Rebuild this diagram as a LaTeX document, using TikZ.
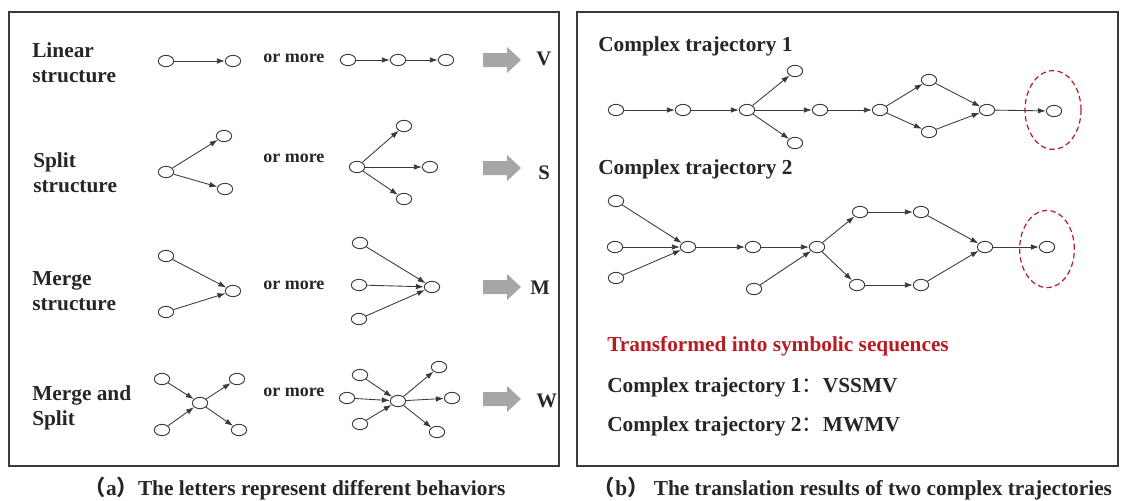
\documentclass[tikz,border=0pt]{standalone}
\usepackage{fontspec}
\setmainfont{Liberation Serif}
\newfontfamily\cjk{Noto Sans CJK SC}
\usetikzlibrary{shapes.geometric,arrows.meta}
\definecolor{TInk}{HTML}{262626}
\definecolor{TLine}{HTML}{3A3A3A}
\definecolor{TBlock}{HTML}{A6A6A6}
\definecolor{TRed}{HTML}{B81C22}

\begin{document}
\begin{tikzpicture}[x=0.75pt, y=-0.75pt,
  vtx/.style={ellipse, draw=TLine, line width=0.7pt, fill=white, inner sep=0pt, minimum width=11.5pt, minimum height=8.5pt},
  link/.style={draw=TLine, line width=0.65pt, -{Latex[length=6pt,width=4.2pt]}},
  panel/.style={draw=TLine, line width=0.9pt},
  rowlabel/.style={font=\fontsize{16}{18.75}\selectfont\bfseries, text=TInk, align=left, anchor=north west, inner sep=0pt},
  ormore/.style={font=\fontsize{13.5}{16}\selectfont\bfseries, text=TInk, anchor=base west, inner sep=0pt},
  letter/.style={font=\fontsize{15.5}{18}\selectfont\bfseries, text=TInk, anchor=base west, inner sep=0pt},
  blockarrow/.style={fill=TBlock, draw=none},
  title/.style={font=\fontsize{16}{19}\selectfont\bfseries, text=TInk, anchor=base west, inner sep=0pt},
  caption/.style={font=\fontsize{16}{19}\selectfont\bfseries, text=TInk, anchor=base, inner sep=0pt},
  hilite/.style={ellipse, draw=TRed, line width=0.9pt, dash pattern=on 4pt off 2.5pt, inner sep=0pt}]
\useasboundingbox (0,0) rectangle (1123,500);

% two panels
\draw[panel] (9,12) rectangle (559,466);
\draw[panel] (577,12) rectangle (1118,466);

% (a) basic structures
\node[rowlabel] (linlab) at (32,42)  {Linear\\structure};
\node[rowlabel] (spllab) at (33,152) {Split\\structure};
\node[rowlabel] (mrglab) at (32,271) {Merge\\structure};
\node[rowlabel] (mslab)  at (32,385) {Merge and\\Split};
\foreach \y/\n in {62/1,162/2,289/3,396/4}{
  \node[ormore] (or\n) at (263,\y) {or more};
}
\foreach \y in {60,168,287,399}{
  \fill[blockarrow] (483,{\y-7}) -- (507,{\y-7}) -- (507,{\y-13}) -- (521,\y) -- (507,{\y+13}) -- (507,{\y+7}) -- (483,{\y+7}) -- cycle;
}
\node[letter] (symV) at (536,65)  {V};
\node[letter] (symS) at (538,179) {S};
\node[letter] (symM) at (530,294) {M};
\node[letter] (symW) at (536,407) {W};

\node[vtx] (lin1a) at (166,61) {}; \node[vtx] (lin1b) at (233,61) {};
\node[vtx] (lin2a) at (348,60) {}; \node[vtx] (lin2b) at (398,60) {}; \node[vtx] (lin2c) at (446,60) {};
\node[vtx] (spl1c) at (166,172) {}; \node[vtx] (spl1u) at (224,136) {}; \node[vtx] (spl1d) at (225,189) {};
\node[vtx] (spl2c) at (357,167) {}; \node[vtx] (spl2u) at (404,126) {}; \node[vtx] (spl2r) at (430,167) {}; \node[vtx] (spl2d) at (404,199) {};
\node[vtx] (mrg1u) at (166,256) {}; \node[vtx] (mrg1d) at (166,312) {}; \node[vtx] (mrg1t) at (233,291) {};
\node[vtx] (mrg2u) at (360,243) {}; \node[vtx] (mrg2m) at (359,285) {}; \node[vtx] (mrg2d) at (359,319) {}; \node[vtx] (mrg2t) at (432,287) {};
\node[vtx] (ms1c) at (200,403) {}; \node[vtx] (ms1ul) at (162,379) {}; \node[vtx] (ms1dl) at (162,430) {};
\node[vtx] (ms1ur) at (237,379) {}; \node[vtx] (ms1dr) at (239,430) {};
\node[vtx] (ms2c) at (398,401) {}; \node[vtx] (ms2ul) at (360,375) {}; \node[vtx] (ms2l) at (347,398) {}; \node[vtx] (ms2dl) at (360,424) {};
\node[vtx] (ms2ur) at (439,367) {}; \node[vtx] (ms2r) at (452,398) {}; \node[vtx] (ms2dr) at (437,432) {};
\foreach \a/\b in {lin1a/lin1b, lin2a/lin2b, lin2b/lin2c,
  spl1c/spl1u, spl1c/spl1d, spl2c/spl2u, spl2c/spl2r, spl2c/spl2d,
  mrg1u/mrg1t, mrg1d/mrg1t, mrg2u/mrg2t, mrg2m/mrg2t, mrg2d/mrg2t,
  ms1ul/ms1c, ms1dl/ms1c, ms1c/ms1ur, ms1c/ms1dr,
  ms2ul/ms2c, ms2l/ms2c, ms2dl/ms2c, ms2c/ms2ur, ms2c/ms2r, ms2c/ms2dr}{
  \draw[link] (\a) -- (\b);
}

% (b) complex trajectories
\node[title] (trj1lab) at (598,51)  {Complex trajectory 1};
\node[title] (trj2lab) at (598,174) {Complex trajectory 2};

\node[vtx] (t1a) at (616,110) {}; \node[vtx] (t1b) at (683,110) {}; \node[vtx] (t1c) at (747,110) {};
\node[vtx] (t1u) at (795,71) {};  \node[vtx] (t1d) at (795,143) {}; \node[vtx] (t1e) at (820,110) {};
\node[vtx] (t1f) at (880,110) {}; \node[vtx] (t1g) at (929,80) {};  \node[vtx] (t1h) at (929,132) {};
\node[vtx] (t1i) at (987,110) {}; \node[vtx] (t1j) at (1054,111) {};
\foreach \a/\b in {t1a/t1b, t1b/t1c, t1c/t1u, t1c/t1e, t1c/t1d, t1e/t1f,
  t1f/t1g, t1f/t1h, t1g/t1i, t1h/t1i, t1i/t1j}{
  \draw[link] (\a) -- (\b);
}
\node[hilite, minimum width=42pt, minimum height=59pt] (ring1) at (1053,110) {};

\node[vtx] (t2a) at (616,201) {}; \node[vtx] (t2b) at (615,247) {}; \node[vtx] (t2c) at (616,278) {};
\node[vtx] (t2d) at (688,247) {}; \node[vtx] (t2e) at (753,247) {}; \node[vtx] (t2f) at (754,289) {};
\node[vtx] (t2g) at (817,247) {}; \node[vtx] (t2h) at (860,212) {}; \node[vtx] (t2i) at (921,212) {};
\node[vtx] (t2j) at (857,285) {}; \node[vtx] (t2k) at (921,285) {}; \node[vtx] (t2l) at (985,247) {};
\node[vtx] (t2m) at (1047,247) {};
\foreach \a/\b in {t2a/t2d, t2b/t2d, t2c/t2d, t2d/t2e, t2e/t2g, t2f/t2g,
  t2g/t2h, t2g/t2j, t2h/t2i, t2j/t2k, t2i/t2l, t2k/t2l, t2l/t2m}{
  \draw[link] (\a) -- (\b);
}
\node[hilite, minimum width=41pt, minimum height=58pt] (ring2) at (1047,249) {};

\node[title, text=TRed] (seqhead) at (607,351) {Transformed into symbolic sequences};
\node[title] (seq1) at (607,392) {Complex trajectory 1{\cjk\mdseries ：}VSSMV};
\node[title] (seq2) at (607,431) {Complex trajectory 2{\cjk\mdseries ：}MWMV};

% captions
\node[caption] (capa) at (295,495) {{\cjk （}a{\cjk ）}The letters represent different behaviors};
\node[caption] (capb) at (853,495) {{\cjk （}b{\cjk ）} The translation results of two complex trajectories};
\end{tikzpicture}
\end{document}
